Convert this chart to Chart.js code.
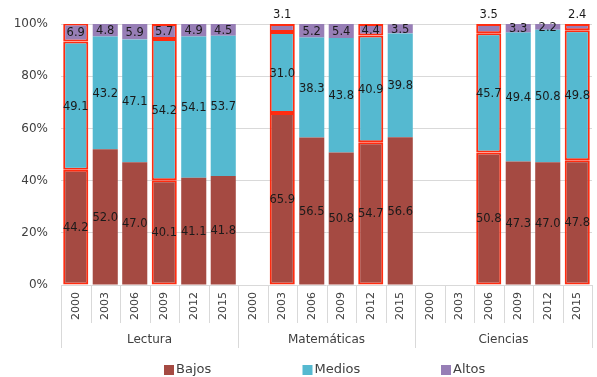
<!DOCTYPE html>
<html>
<head>
<meta charset="utf-8">
<script src="https://cdn.jsdelivr.net/npm/chart.js@4/dist/chart.umd.min.js"></script>
<style>
  html, body { margin: 0; padding: 0; background: #fff; }
  #wrap { width: 597px; height: 377px; }
</style>
</head>
<body>
<div id="wrap"><canvas id="nivelesChart"></canvas></div>
<script>
const subjects = ['Lectura', 'Matemáticas', 'Ciencias'];
const years = ['2000', '2003', '2006', '2009', '2012', '2015'];

// % of students per level, one entry per subject/year (null = no data)
const bajos  = [44.2, 52.0, 47.0, 40.1, 41.1, 41.8,  null, 65.9, 56.5, 50.8, 54.7, 56.6,  null, null, 50.8, 47.3, 47.0, 47.8];
const medios = [49.1, 43.2, 47.1, 54.2, 54.1, 53.7,  null, 31.0, 38.3, 43.8, 40.9, 39.8,  null, null, 45.7, 49.4, 50.8, 49.8];
const altos  = [ 6.9,  4.8,  5.9,  5.7,  4.9,  4.5,  null,  3.1,  5.2,  5.4,  4.4,  3.5,  null, null,  3.5,  3.3,  2.2,  2.4];
// bars outlined in red
const marcados = [1, 0, 0, 1, 0, 0,  0, 1, 0, 0, 1, 0,  0, 0, 1, 0, 0, 1];

const yTicks = [0, 20, 40, 60, 80, 100];

const labels = subjects.flatMap(s => years.map(y => s + ' ' + y));

const axisColor = '#404040';
const lineColor = '#d9d9d9';
const fontFamily = '"DejaVu Sans", Verdana, sans-serif';

function serie(label, data, color) {
    return {
        label: label,
        data: data,
        backgroundColor: color,
        borderColor: '#ff2c10',
        borderWidth: marcados.map(m => m ? 2 : 0),
        borderSkipped: false,
        barPercentage: 0.85,
        categoryPercentage: 1.0
    };
}

// value labels inside each segment
const valueLabels = {
    id: 'valueLabels',
    afterDatasetsDraw(chart) {
        const ctx = chart.ctx;
        ctx.save();
        ctx.font = '11.5px ' + fontFamily;
        ctx.fillStyle = '#1a1a1a';
        ctx.textAlign = 'center';
        ctx.textBaseline = 'middle';
        chart.data.datasets.forEach((ds, di) => {
            const meta = chart.getDatasetMeta(di);
            meta.data.forEach((bar, i) => {
                const v = ds.data[i];
                if (v === null) return;
                let y = (bar.y + bar.base) / 2;
                if (marcados[i] && Math.abs(bar.base - bar.y) < 10.5) y = bar.y - 10;
                ctx.fillText(v.toFixed(1), bar.x, y + 1);
            });
        });
        ctx.restore();
    }
};

// two-level category axis (year / subject) and the legend below it
const categoryAxis = {
    id: 'categoryAxis',
    afterDraw(chart) {
        const ctx = chart.ctx;
        const area = chart.chartArea;
        const n = labels.length;
        const w = (area.right - area.left) / n;
        ctx.save();
        ctx.strokeStyle = lineColor;
        ctx.lineWidth = 1;
        for (let i = 0; i <= n; i++) {
            const x = Math.round(area.left + i * w) + 0.5;
            ctx.beginPath();
            ctx.moveTo(x, area.bottom);
            ctx.lineTo(x, area.bottom + (i % years.length === 0 ? 63 : 38));
            ctx.stroke();
        }
        ctx.fillStyle = axisColor;
        ctx.font = '11px ' + fontFamily;
        ctx.textAlign = 'right';
        ctx.textBaseline = 'middle';
        labels.forEach((l, i) => {
            const cx = area.left + (i + 0.5) * w;
            ctx.save();
            ctx.translate(cx, area.bottom + 7);
            ctx.rotate(-Math.PI / 2);
            ctx.fillText(years[i % years.length], 0, 0);
            ctx.restore();
        });
        ctx.font = '12px ' + fontFamily;
        ctx.textAlign = 'center';
        subjects.forEach((s, g) => {
            const cx = area.left + (g + 0.5) * years.length * w;
            ctx.fillText(s, cx, area.bottom + 55);
        });

        // legend
        ctx.font = '13px ' + fontFamily;
        ctx.textAlign = 'left';
        chart.data.datasets.forEach((ds, di) => {
            const x = 164 + di * 138.5;
            const y = 370;
            ctx.fillStyle = ds.backgroundColor;
            ctx.fillRect(x, y - 5, 10, 10);
            ctx.fillStyle = axisColor;
            ctx.fillText(ds.label, x + 12, y);
        });
        ctx.restore();
    }
};

new Chart(document.getElementById('nivelesChart'), {
    type: 'bar',
    data: {
        labels: labels,
        datasets: [
            serie('Bajos', bajos, '#a54a42'),
            serie('Medios', medios, '#55b9d0'),
            serie('Altos', altos, '#977eb6')
        ]
    },
    options: {
        responsive: true,
        maintainAspectRatio: false,
        animation: false,
        layout: { padding: { top: 24, right: 5, bottom: 92, left: 0 } },
        plugins: {
            legend: { display: false },
            tooltip: { enabled: false }
        },
        scales: {
            x: {
                stacked: true,
                display: false
            },
            y: {
                stacked: true,
                min: 0,
                max: 100,
                afterFit(scale) { scale.width = 61; },
                afterBuildTicks(scale) { scale.ticks = yTicks.map(v => ({ value: v })); },
                border: { display: false },
                grid: { color: lineColor, drawTicks: false },
                ticks: {
                    color: axisColor,
                    padding: 13,
                    font: { family: fontFamily, size: 12 },
                    callback: v => v + '%'
                }
            }
        }
    },
    plugins: [valueLabels, categoryAxis]
});
</script>
</body>
</html>
